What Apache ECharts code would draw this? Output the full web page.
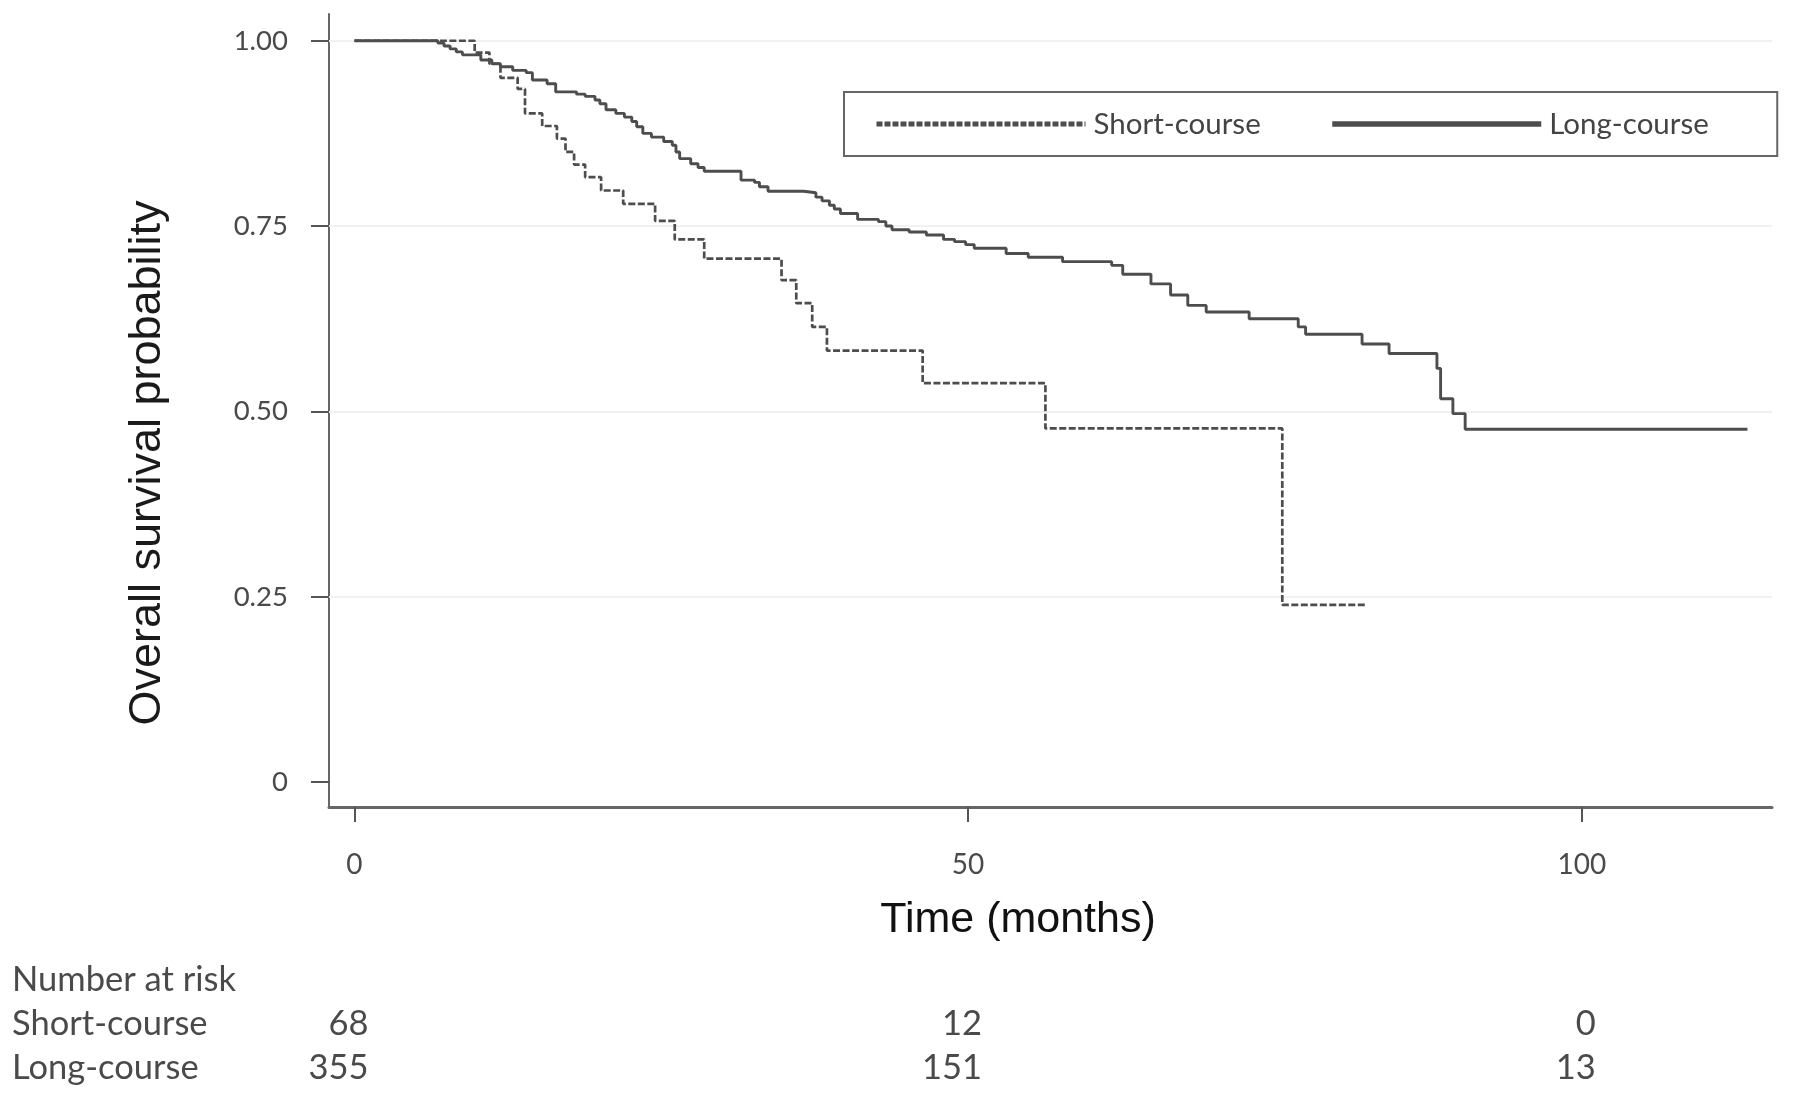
<!DOCTYPE html>
<html>
<head>
<meta charset="utf-8">
<script src="https://cdn.jsdelivr.net/npm/echarts@6/dist/echarts.min.js"></script>
<style>
  html, body { margin: 0; padding: 0; background: #ffffff; }
  #chart { width: 1795px; height: 1101px; }
</style>
</head>
<body>
<div id="chart"></div>
<script>
// ---------- data ----------
const xTicks = [0, 50, 100];
const yTicks = [0, 0.25, 0.5, 0.75, 1];
const riskTimes = [0, 50, 100];
const shortAtRisk = [68, 12, 0];
const longAtRisk = [355, 151, 13];
const gridLevels = [0.25, 0.5, 0.75, 1];

const shortTimes = [0, 9.8, 11.0, 11.9, 13.3, 13.9, 15.3, 16.5, 17.2, 17.9, 18.8, 20.1, 21.9, 24.5, 26.1, 28.5, 34.8, 36.0, 37.3, 38.5, 46.3, 56.3, 75.6, 82.4];
const shortSurv  = [1.0, 0.984, 0.969, 0.950, 0.935, 0.902, 0.885, 0.868, 0.850, 0.833, 0.816, 0.798, 0.780, 0.757, 0.732, 0.706, 0.677, 0.646, 0.614, 0.582, 0.538, 0.477, 0.239, 0.239];

const longTimes = [0, 6.8, 7.3, 7.8, 8.3, 8.8, 10.3, 11.2, 11.9, 12.9, 14.0, 14.5, 15.7, 16.4, 18.1, 18.8, 19.6, 20.0, 20.5, 21.3, 22.0, 22.6, 23.0, 23.5, 24.2, 25.2, 25.9, 26.2, 26.5, 27.4, 28.0, 28.5, 31.5, 32.6, 33.0, 33.7, 36.6, 37.6, 38.1, 38.7, 39.1, 39.6, 41.0, 42.7, 43.3, 43.8, 45.2, 46.6, 48.0, 48.9, 49.8, 50.5, 53.1, 54.9, 57.7, 61.7, 62.6, 64.9, 66.5, 67.9, 69.4, 72.9, 76.9, 77.5, 82.1, 84.3, 88.2, 88.5, 89.5, 90.5, 113.5];
const longSurv  = [1.0, 0.997, 0.993, 0.989, 0.985, 0.981, 0.974, 0.969, 0.965, 0.960, 0.957, 0.947, 0.942, 0.931, 0.928, 0.925, 0.920, 0.915, 0.907, 0.902, 0.897, 0.891, 0.884, 0.875, 0.870, 0.864, 0.859, 0.850, 0.841, 0.834, 0.829, 0.824, 0.812, 0.809, 0.803, 0.797, 0.795, 0.789, 0.784, 0.778, 0.773, 0.767, 0.759, 0.756, 0.750, 0.745, 0.742, 0.738, 0.732, 0.729, 0.725, 0.720, 0.713, 0.708, 0.702, 0.697, 0.685, 0.672, 0.657, 0.643, 0.634, 0.625, 0.614, 0.604, 0.591, 0.578, 0.558, 0.517, 0.497, 0.476, 0.476];

const zip = (a, b) => a.map((v, i) => [v, b[i]]);

// ---------- chart ----------
const chart = echarts.init(document.getElementById('chart'), null, { renderer: 'canvas' });
const LABEL_FONT = 'Lato, "Open Sans", sans-serif';
const TITLE_FONT = '"Liberation Sans", Arial, sans-serif';
const LINE_COLOR = '#4d4d4d';

chart.setOption({
  backgroundColor: '#ffffff',
  animation: false,
  grid: { left: 329, right: 23, top: 14, bottom: 294, containLabel: false },
  xAxis: {
    type: 'value', min: -2.07, max: 115.5,
    axisLine: { show: true, onZero: false, lineStyle: { color: '#666', width: 3 } },
    axisTick: { show: true, customValues: xTicks, length: 15, lineStyle: { color: '#555', width: 2 } },
    axisLabel: { show: true, customValues: xTicks, margin: 44, fontFamily: LABEL_FONT, fontSize: 28, color: '#4a4a4a' },
    splitLine: { show: false }
  },
  yAxis: {
    type: 'value', min: -0.0337, max: 1.0361,
    axisLine: { show: true, onZero: false, lineStyle: { color: '#666', width: 2 } },
    axisTick: { show: true, customValues: yTicks, length: 18, lineStyle: { color: '#555', width: 2 } },
    axisLabel: { show: true, customValues: yTicks, margin: 41, fontFamily: LABEL_FONT, fontSize: 27.5, color: '#4a4a4a',
      formatter: v => (v === 0 ? '0' : v.toFixed(2)) },
    splitLine: { show: false }
  },
  legend: {
    left: 844, top: 92,
    orient: 'horizontal',
    padding: [13, 52, 13, 30],
    itemGap: 60, itemWidth: 209, itemHeight: 14,
    borderColor: '#666', borderWidth: 2,
    textStyle: { fontFamily: LABEL_FONT, fontSize: 29.5, color: '#444', width: 176, lineHeight: 38, padding: [0, 0, 0, 3] },
    data: [
      { name: 'Short-course', itemStyle: { opacity: 0 }, lineStyle: { width: 5, type: [6, 2] } },
      { name: 'Long-course', itemStyle: { opacity: 0 }, lineStyle: { width: 5.5 } }
    ]
  },
  series: [
    {
      name: 'gridlines', type: 'line', data: [], silent: true, z: 1,
      markLine: {
        z: 1, silent: true, symbol: ['none', 'none'], label: { show: false },
        lineStyle: { color: '#f1f1f1', width: 2, type: 'solid' },
        data: gridLevels.map(v => ({ yAxis: v }))
      }
    },
    {
      name: 'Short-course', type: 'line', step: 'end', symbol: 'none', showSymbol: false, z: 3,
      data: zip(shortTimes, shortSurv),
      lineStyle: { color: LINE_COLOR, width: 2.7, type: [7, 2.5] },
      itemStyle: { color: LINE_COLOR }
    },
    {
      name: 'Long-course', type: 'line', step: 'end', symbol: 'none', showSymbol: false, z: 2,
      data: zip(longTimes, longSurv),
      lineStyle: { color: LINE_COLOR, width: 2.9, type: 'solid' },
      itemStyle: { color: LINE_COLOR }
    }
  ]
});

// ---------- titles and number-at-risk table ----------
const graphics = [
  { type: 'text', x: 148, y: 463, rotation: Math.PI / 2,
    style: { text: 'Overall survival probability', font: '45px ' + TITLE_FONT, fill: '#1a1a1a',
             textAlign: 'center', textVerticalAlign: 'middle', align: 'center', verticalAlign: 'middle' } },
  { type: 'text', x: 1018, y: 920,
    style: { text: 'Time (months)', font: '43px ' + TITLE_FONT, fill: '#111111',
             textAlign: 'center', textVerticalAlign: 'middle', align: 'center', verticalAlign: 'middle' } }
];
const rowY = { head: 980, short: 1024, long: 1068 };
const rowFont = '34.5px ' + LABEL_FONT;
graphics.push({ type: 'text', x: 12, y: rowY.head,
  style: { text: 'Number at risk', font: rowFont, fill: '#4a4a4a', textVerticalAlign: 'middle', verticalAlign: 'middle' } });
graphics.push({ type: 'text', x: 12, y: rowY.short,
  style: { text: 'Short-course', font: rowFont, fill: '#4a4a4a', textVerticalAlign: 'middle', verticalAlign: 'middle' } });
graphics.push({ type: 'text', x: 12, y: rowY.long,
  style: { text: 'Long-course', font: rowFont, fill: '#4a4a4a', textVerticalAlign: 'middle', verticalAlign: 'middle' } });
riskTimes.forEach((t, i) => {
  const px = chart.convertToPixel({ xAxisIndex: 0 }, t);
  graphics.push({ type: 'text', x: px + 14, y: rowY.short,
    style: { text: String(shortAtRisk[i]), font: rowFont, fill: '#4a4a4a',
             textAlign: 'right', align: 'right', textVerticalAlign: 'middle', verticalAlign: 'middle' } });
  graphics.push({ type: 'text', x: px + 14, y: rowY.long,
    style: { text: String(longAtRisk[i]), font: rowFont, fill: '#4a4a4a',
             textAlign: 'right', align: 'right', textVerticalAlign: 'middle', verticalAlign: 'middle' } });
});
chart.setOption({ graphic: graphics });
</script>
</body>
</html>
